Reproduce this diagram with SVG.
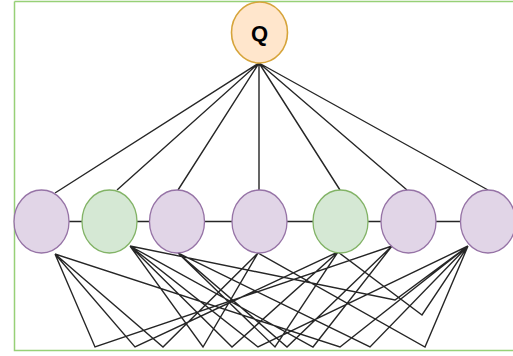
<svg xmlns="http://www.w3.org/2000/svg" width="513" height="356" viewBox="0 0 513 356">
<style>
.frame{stroke:#97d077;stroke-width:1.5;fill:none}
.pur{fill:#e1d5e7;stroke:#9673a6;stroke-width:1.3}
.grn{fill:#d5e8d4;stroke:#82b366;stroke-width:1.3}
.q{fill:#ffe6cc;stroke:#d6a43a;stroke-width:1.6}
.e{stroke:#262626;stroke-width:1.4;fill:none;stroke-linejoin:miter}
.lbl{font-family:"Liberation Sans",Arial,sans-serif;font-weight:bold;font-size:22px;fill:#000;text-anchor:middle}
</style>
<rect width="513" height="356" fill="#ffffff"/>
<g id="frame">
<path class="frame" d="M14.5,1.5 H513 M14.5,1.5 V350.5 H513"/>
</g>
<g id="connectors">
<path class="e" d="M259,63 L55,193 M259,63 L117,190 M259,63 L178,190 M259,63 L259,190 M259,63 L340,190 M259,63 L407,190 M259,63 L488,190"/>
<path class="e" d="M69,221.5 H82 M137,221.5 H149.5 M204.5,221.5 H232 M287,221.5 H313 M368,221.5 H381 M436,221.5 H460.5"/>
<path class="e" d="
M55,254 L95,347 L392,246
M55,254 L135,347 L338,252
M55,254 L163,347 L258,253
M130,246 L203,347 L258,253
M130,246 L232,347 L338,252
M130,246 L258,347 L468,246
M178,253 L275,347 L338,252
M178,253 L287,347 L392,246
M130,246 L313,347 L392,246
M55,254 L340,347 L468,246
M178,253 L370,347 L468,246
M258,253 L425,347 L468,246
M338,252 L422,315 L468,246
M130,246 L395,300 L468,246"/>
</g>
<g id="node-q">
<ellipse class="q" cx="259.5" cy="32.5" rx="28" ry="30.5"/>
<text class="lbl" x="259.5" y="40.5">Q</text>
</g>
<g id="node-1"><ellipse class="pur" cx="41.5" cy="221.5" rx="27.5" ry="31.5"/></g>
<g id="node-2"><ellipse class="grn" cx="109.5" cy="221.5" rx="27.5" ry="31.5"/></g>
<g id="node-3"><ellipse class="pur" cx="177" cy="221.5" rx="27.5" ry="31.5"/></g>
<g id="node-4"><ellipse class="pur" cx="259.5" cy="221.5" rx="27.5" ry="31.5"/></g>
<g id="node-5"><ellipse class="grn" cx="340.5" cy="221.5" rx="27.5" ry="31.5"/></g>
<g id="node-6"><ellipse class="pur" cx="408.5" cy="221.5" rx="27.5" ry="31.5"/></g>
<g id="node-7"><ellipse class="pur" cx="488" cy="221.5" rx="27.5" ry="31.5"/></g>
</svg>
